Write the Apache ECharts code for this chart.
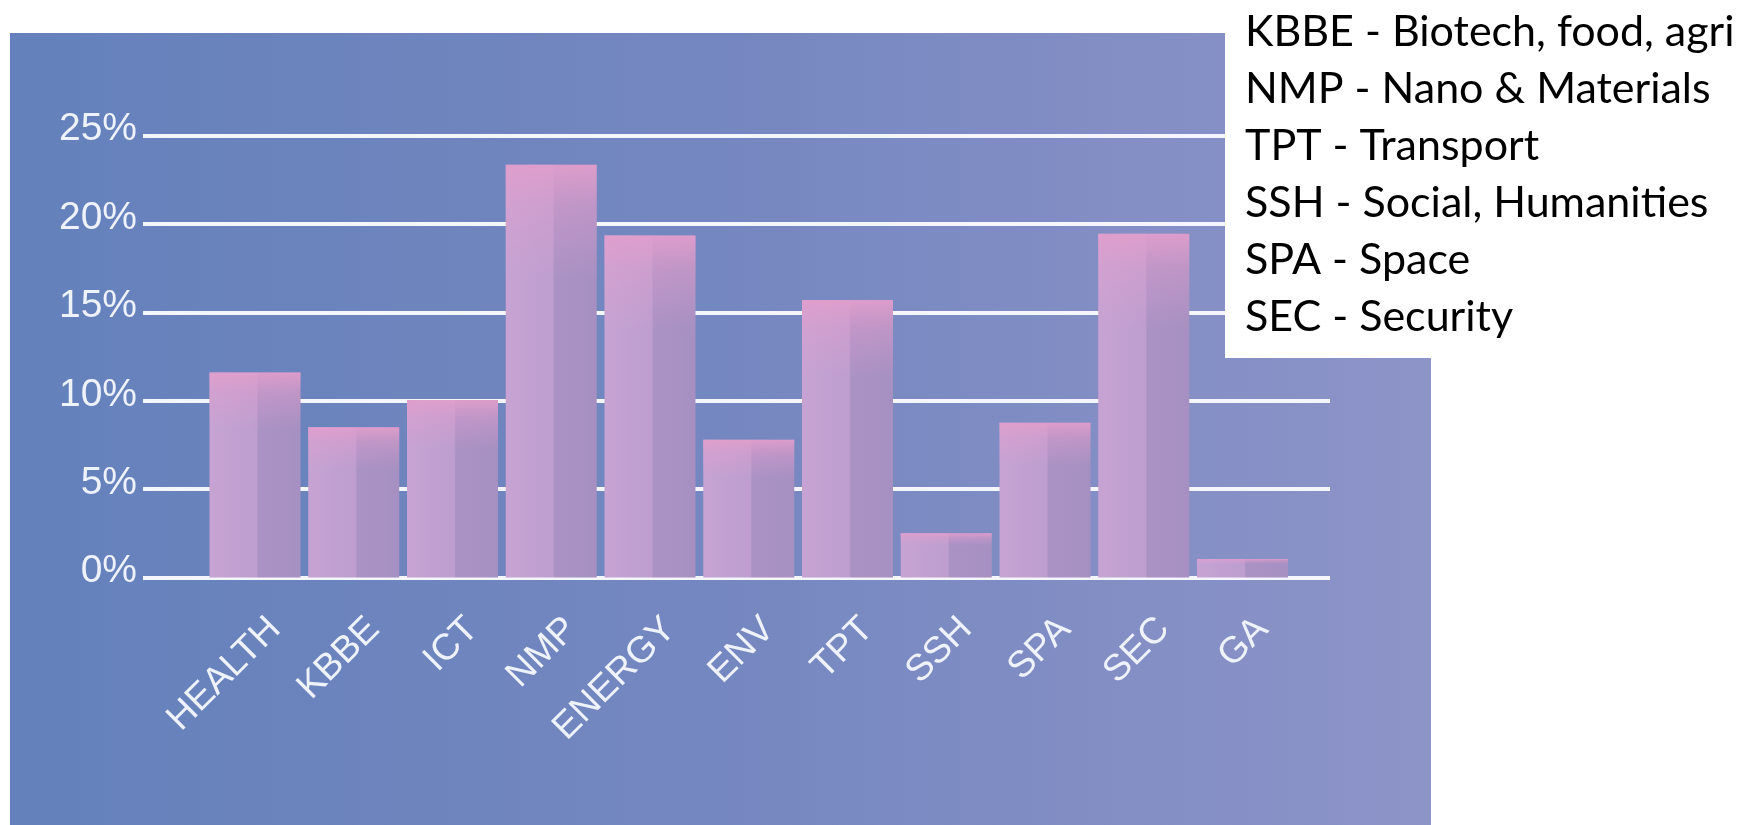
<!DOCTYPE html>
<html>
<head>
<meta charset="utf-8">
<script src="https://cdn.jsdelivr.net/npm/echarts@6/dist/echarts.min.js"></script>
<style>
html,body{margin:0;padding:0;background:#ffffff;}
#chart{width:1760px;height:825px;}
</style>
</head>
<body>
<div id="chart"></div>
<script>
const categories = ['HEALTH','KBBE','ICT','NMP','ENERGY','ENV','TPT','SSH','SPA','SEC','GA'];
const shares = [11.6, 8.5, 10.05, 23.35, 19.35, 7.8, 15.7, 2.5, 8.75, 19.45, 1.05];
const yMin = 0, yMax = 25, yStep = 5;
const legendLines = [
  'KBBE - Biotech, food, agri',
  'NMP - Nano & Materials',
  'TPT - Transport',
  'SSH - Social, Humanities',
  'SPA - Space',
  'SEC - Security'
];

const chart = echarts.init(document.getElementById('chart'), null, {renderer:'canvas'});

const gTop = 135.7, gBottom = 825 - 577.5;
const legendFs = 43;
const legendGraphics = legendLines.map((t, i) => ({
  type: 'text',
  x: 1245,
  y: 33.7 + i * 57 - 2,
  z: 11,
  style: {
    text: t,
    font: legendFs + 'px Lato',
    fill: '#000000',
    textVerticalAlign: 'middle',
    verticalAlign: 'middle'
  }
}));

const option = {
  animation: false,
  backgroundColor: '#ffffff',
  graphic: [
    {
      type: 'rect', z: -10,
      shape: {x: 10, y: 33, width: 1421, height: 792},
      style: {
        fill: new echarts.graphic.LinearGradient(0, 0, 1, 0, [
          {offset: 0, color: '#6481bb'},
          {offset: 0.5, color: '#7587c0'},
          {offset: 1, color: '#8d94c8'}
        ])
      }
    },
    {
      type: 'rect', z: 10,
      shape: {x: 1225, y: 0, width: 535, height: 358},
      style: {fill: '#ffffff'}
    }
  ].concat(legendGraphics),
  grid: [
    {left: 143, right: 1760 - 1330, top: gTop, bottom: gBottom, containLabel: false},
    {left: 205.6, right: 1760 - 1291.9, top: gTop, bottom: gBottom, containLabel: false},
    {left: 205.6 + 20, right: 1760 - 1291.9 - 20, top: gTop, bottom: gBottom, containLabel: false}
  ],
  xAxis: [
    {type: 'category', gridIndex: 0, data: categories, show: false},
    {type: 'category', gridIndex: 1, data: categories, show: false},
    {
      type: 'category', gridIndex: 2, data: categories,
      axisLine: {show: false}, axisTick: {show: false}, splitLine: {show: false},
      axisLabel: {
        interval: 0, rotate: 45, margin: 46,
        color: '#eef2fa', fontSize: 37, fontFamily: 'Liberation Sans'
      }
    }
  ],
  yAxis: [
    {
      type: 'value', gridIndex: 0, min: yMin, max: yMax, interval: yStep,
      axisLine: {show: false}, axisTick: {show: false},
      splitLine: {show: true, lineStyle: {color: '#f4f6fc', width: 4}},
      axisLabel: {
        formatter: '{value}%', color: '#eef2fa', fontSize: 39,
        fontFamily: 'Liberation Sans', margin: 6,
        verticalAlign: 'bottom', lineHeight: 12
      }
    },
    {type: 'value', gridIndex: 1, min: yMin, max: yMax, interval: yStep, show: false, splitLine: {show: false}},
    {type: 'value', gridIndex: 2, min: yMin, max: yMax, interval: yStep, show: false, splitLine: {show: false}}
  ],
  series: [
    {
      type: 'bar', xAxisIndex: 1, yAxisIndex: 1, data: shares, barWidth: 91, z: 3,
      itemStyle: {
        color: new echarts.graphic.LinearGradient(0, 0, 1, 0, [
          {offset: 0, color: '#c6a3d3'},
          {offset: 0.52, color: '#bd9ecf'},
          {offset: 0.535, color: '#ab92c5'},
          {offset: 1, color: '#a690c2'}
        ])
      }
    },
    {
      type: 'bar', xAxisIndex: 1, yAxisIndex: 1, data: shares, barWidth: 91, barGap: '-100%', z: 4,
      silent: true,
      itemStyle: {
        color: new echarts.graphic.LinearGradient(0, 0, 0, 1, [
          {offset: 0, color: 'rgba(226,158,204,0.9)'},
          {offset: 0.1, color: 'rgba(226,158,204,0.4)'},
          {offset: 0.28, color: 'rgba(226,158,204,0)'},
          {offset: 1, color: 'rgba(226,158,204,0)'}
        ])
      }
    }
  ]
};
chart.setOption(option);
</script>
</body>
</html>
